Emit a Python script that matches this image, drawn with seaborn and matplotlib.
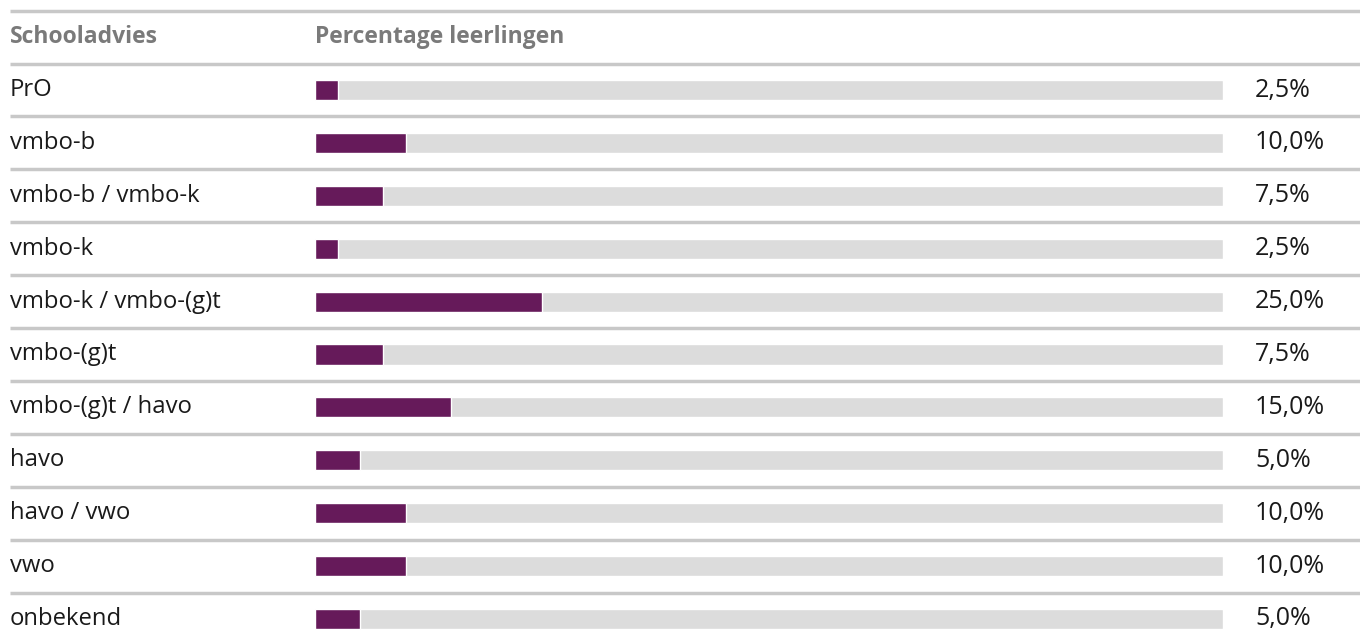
import pandas as pd
import seaborn as sns
from matplotlib import pyplot as plt
from matplotlib import transforms

sns.set_theme(style="white")
plt.rcParams["font.family"] = ["Open Sans", "DejaVu Sans"]

# data
schooladvies = ["PrO", "vmbo-b", "vmbo-b / vmbo-k", "vmbo-k", "vmbo-k / vmbo-(g)t",
                "vmbo-(g)t", "vmbo-(g)t / havo", "havo", "havo / vwo", "vwo", "onbekend"]
percentage = [2.5, 10.0, 7.5, 2.5, 25.0, 7.5, 15.0, 5.0, 10.0, 10.0, 5.0]

df = pd.DataFrame({"advies": schooladvies, "pct": percentage, "totaal": 100})

W, H = 1360, 633
fig = plt.figure(figsize=(W / 100, H / 100), dpi=100)
ax = fig.add_axes([315 / W, 0, (1223 - 315) / W, 1])

# grijze achtergrondbalk + paarse balk
sns.barplot(data=df, x="totaal", y="advies", orient="h", color="#dcdcdc",
            width=0.38, ax=ax, saturation=1)
sns.barplot(data=df, x="pct", y="advies", orient="h", color="#661a5a",
            width=0.38, ax=ax, saturation=1)

ax.set_xlim(0, 100)
ax.set_ylim((633 - 90) / 52.9, -90 / 52.9)
ax.axis("off")

tr = transforms.blended_transform_factory(fig.transFigure, ax.transData)

# lijnen tussen rijen
for i in range(-1, len(schooladvies)):
    ax.plot([10 / W, 1.0], [i - 0.5, i - 0.5], transform=tr, color="#c8c8c8",
            lw=2.5, clip_on=False, solid_capstyle="butt")

# kop
ax.text(10 / W, -1, "Schooladvies", transform=tr, ha="left", va="center",
        fontsize=16.5, fontweight="bold", color="#7a7a7a")
ax.text(315 / W, -1, "Percentage leerlingen", transform=tr, ha="left", va="center",
        fontsize=16.5, fontweight="bold", color="#7a7a7a")

# rijlabels en percentages
for i, (lab, val) in enumerate(zip(schooladvies, percentage)):
    ax.text(10 / W, i, lab, transform=tr, ha="left", va="center",
            fontsize=17.2, color="#1a1a1a")
    ax.text(1255 / W, i, f"{val:.1f}%".replace(".", ","), transform=tr,
            ha="left", va="center", fontsize=18, color="#1a1a1a")

fig.savefig("out.png", dpi=100)
